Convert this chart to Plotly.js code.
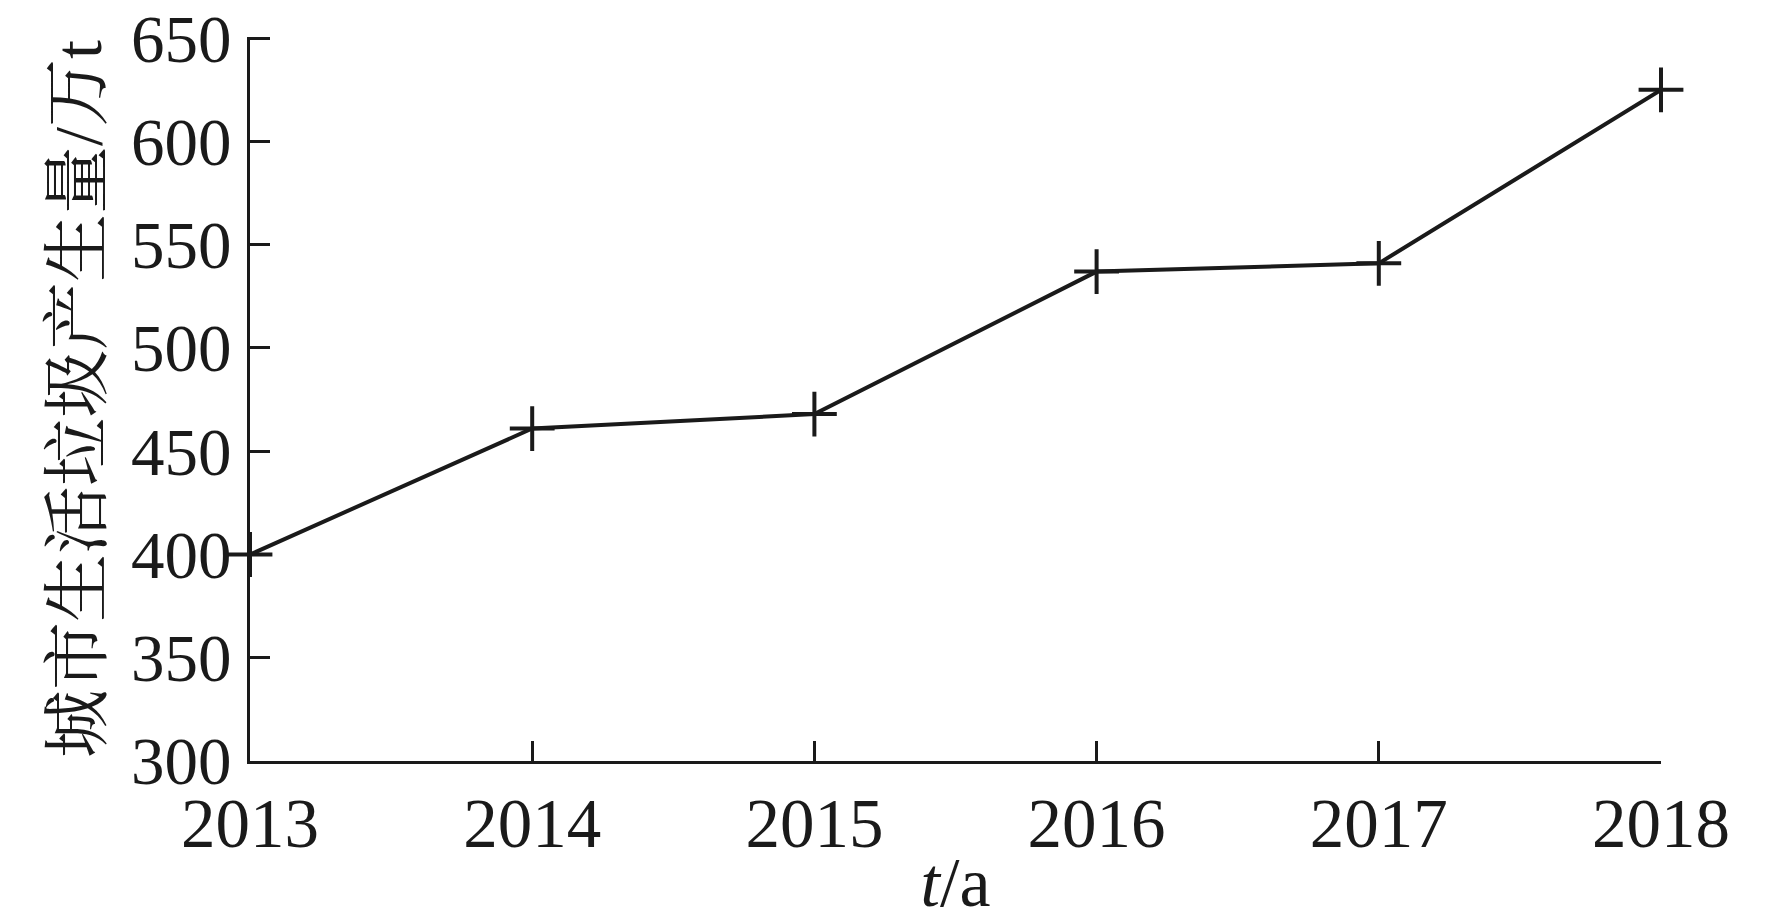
<!DOCTYPE html>
<html>
<head>
<meta charset="utf-8">
<script src="https://cdn.plot.ly/plotly-3.0.1.min.js"></script>
<style>html,body{margin:0;padding:0;background:#fff;}#chart{width:1772px;height:921px;}</style>
</head>
<body>
<div id="chart"></div>
<script>
const years = [2013, 2014, 2015, 2016, 2017, 2018];
const garbage = [400, 461, 468, 537, 541, 625];
const yTicks = [300, 350, 400, 450, 500, 550, 600, 650];
const xTitle = '<i>t</i>/a';
const yTitle = '城市生活垃圾产生量/万t';

const fontFam = '"Liberation Serif", "Noto Serif CJK SC", "Noto Sans CJK SC", serif';
const ink = '#1a1a1a';

const trace = {
  x: years,
  y: garbage,
  type: 'scatter',
  mode: 'lines+markers',
  line: {color: ink, width: 4},
  marker: {symbol: 'cross-thin-open', size: 32, line: {color: ink, width: 4}},
  cliponaxis: false,
  hoverinfo: 'x+y'
};

const layout = {
  width: 1772,
  height: 921,
  margin: {l: 250, r: 111, t: 37, b: 160},
  paper_bgcolor: '#fff',
  plot_bgcolor: '#fff',
  showlegend: false,
  font: {family: fontFam, color: ink, size: 68},
  xaxis: {
    range: [2013, 2018],
    tickvals: years,
    ticktext: years.map(String),
    ticks: 'inside',
    ticklen: 20,
    tickwidth: 3,
    tickcolor: ink,
    showline: true,
    linecolor: ink,
    linewidth: 3,
    showgrid: false,
    zeroline: false,
    tickfont: {family: fontFam, size: 69, color: ink},
    ticklabelstandoff: 0,
    ticklabeloverflow: 'allow',
    title: {text: xTitle, font: {family: fontFam, size: 70, color: ink}, standoff: 26}
  },
  yaxis: {
    range: [300, 650.6],
    tickvals: yTicks,
    ticks: 'inside',
    ticklen: 20,
    tickwidth: 3,
    tickcolor: ink,
    showline: true,
    linecolor: ink,
    linewidth: 3,
    showgrid: false,
    zeroline: false,
    tickfont: {family: fontFam, size: 67, color: ink},
    ticklabelstandoff: 2,
    ticklabeloverflow: 'allow',
    title: {text: yTitle, font: {family: fontFam, size: 68, color: ink}, standoff: 8}
  }
};

Plotly.newPlot('chart', [trace], layout, {displayModeBar: false, staticPlot: true});
</script>
</body>
</html>
